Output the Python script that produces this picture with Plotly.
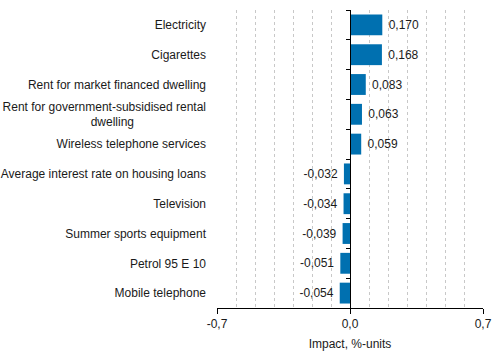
import plotly.graph_objects as go

categories = [
    "Electricity",
    "Cigarettes",
    "Rent for market financed dwelling",
    "Rent for government-subsidised rental<br>dwelling" + "\u2003" * 6,
    "Wireless telephone services",
    "Average interest rate on housing loans",
    "Television",
    "Summer sports equipment",
    "Petrol 95 E 10",
    "Mobile telephone",
]
values = [0.170, 0.168, 0.083, 0.063, 0.059, -0.032, -0.034, -0.039, -0.051, -0.054]
x_tickvals = [-0.7, 0.0, 0.7]
x_ticktext = ["-0,7", "0,0", "0,7"]
x_title = "Impact, %-units"

labels = [("\u00a0" + f"{v:.3f}" if v >= 0 else f"{v:.3f}" + "\u00a0").replace(".", ",")
          for v in values]
ypos = list(range(len(categories)))

FONT = "Liberation Sans, Arial, sans-serif"

fig = go.Figure()
fig.add_trace(go.Bar(
    x=values, y=ypos, orientation="h",
    marker=dict(color="#0070b0", line=dict(width=0)),
    text=labels, textposition="outside", cliponaxis=False,
    textfont=dict(family=FONT, size=12, color="#1a1a1a"),
    width=0.7,
))
# invisible trace to activate the zero-position tick axis
fig.add_trace(go.Scatter(x=[0], y=[0], yaxis="y2", mode="markers",
                         marker=dict(opacity=0), showlegend=False, hoverinfo="skip"))

fig.update_layout(
    width=499, height=352,
    margin=dict(l=217, r=16, t=10, b=44, autoexpand=False),
    paper_bgcolor="white", plot_bgcolor="white",
    showlegend=False,
    font=dict(family=FONT, size=12, color="#1a1a1a"),
    xaxis=dict(
        range=[-0.7, 0.7], tickvals=x_tickvals, ticktext=x_ticktext,
        showgrid=True, gridcolor="#8c8c8c", gridwidth=1,
        minor=dict(dtick=0.1, tick0=0, showgrid=True, gridcolor="#c8c8c8",
                   griddash="dot", gridwidth=1, ticks=""),
        zeroline=True, zerolinecolor="#000000", zerolinewidth=1,
        showline=True, linecolor="#000000", linewidth=1,
        ticks="outside", ticklen=5, tickcolor="#000000",
        tickfont=dict(size=12),
        title=dict(text=x_title, standoff=9, font=dict(size=12)),
        automargin=False,
        fixedrange=True,
    ),
    yaxis=dict(
        tickvals=ypos, ticktext=categories,
        range=[len(categories) - 0.5, -0.5],
        showgrid=False, zeroline=False, showline=False,
        ticks="", ticklabelstandoff=10,
        tickfont=dict(size=12),
        automargin=False,
    ),
    yaxis2=dict(
        overlaying="y", anchor="free", position=0.5, side="left",
        range=[len(categories) - 0.5, -0.5],
        tickvals=[i - 0.5 for i in range(len(categories) + 1)],
        showticklabels=False, ticks="outside", ticklen=4, tickcolor="#000000",
        showline=True, linecolor="#000000", linewidth=1,
        showgrid=False, zeroline=False, automargin=False,
    ),
)

fig.write_html("out.html")
